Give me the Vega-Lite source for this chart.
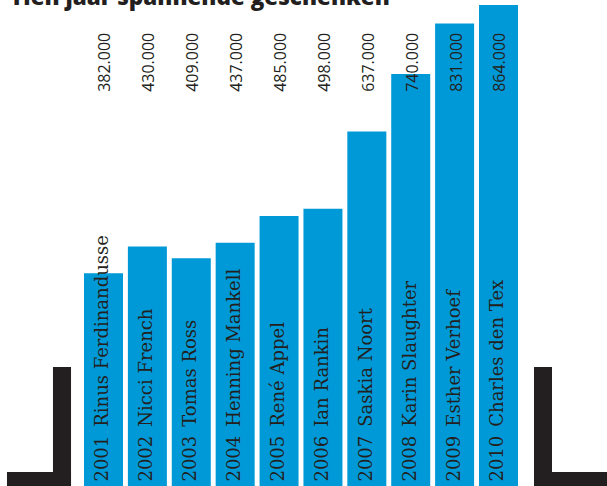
{
  "$schema": "https://vega.github.io/schema/vega-lite/v6.json",
  "width": 607,
  "height": 486,
  "autosize": {"type": "none"},
  "padding": 0,
  "background": "white",
  "config": {
    "view": {"stroke": null},
    "locale": {"number": {"decimal": ",", "thousands": ".", "grouping": [3], "currency": ["€", ""]}}
  },
  "datasets": {
    "titel": [
      {"tekst": "Tien jaar spannende geschenken"}
    ],
    "boeken": [
      {"jaar": 2001, "label": "2001\u2002Rinus Ferdinandusse", "oplage": 382000},
      {"jaar": 2002, "label": "2002\u2002Nicci French", "oplage": 430000},
      {"jaar": 2003, "label": "2003\u2002Tomas Ross", "oplage": 409000},
      {"jaar": 2004, "label": "2004\u2002Henning Mankell", "oplage": 437000},
      {"jaar": 2005, "label": "2005\u2002René Appel", "oplage": 485000},
      {"jaar": 2006, "label": "2006\u2002Ian Rankin", "oplage": 498000},
      {"jaar": 2007, "label": "2007\u2002Saskia Noort", "oplage": 637000},
      {"jaar": 2008, "label": "2008\u2002Karin Slaughter", "oplage": 740000},
      {"jaar": 2009, "label": "2009\u2002Esther Verhoef", "oplage": 831000},
      {"jaar": 2010, "label": "2010\u2002Charles den Tex", "oplage": 864000}
    ],
    "decor": [
      {"x_start": 1999.849, "x_end": 2000.26, "y_start": 0, "y_end": 213759},
      {"x_start": 1998.801, "x_end": 2000.26, "y_start": 0, "y_end": 25148},
      {"x_start": 2010.809, "x_end": 2011.219, "y_start": 0, "y_end": 213759},
      {"x_start": 2010.809, "x_end": 2012.6, "y_start": 0, "y_end": 25148}
    ]
  },
  "layer": [
    {
      "data": {"name": "decor"},
      "mark": {"type": "rect", "color": "#231f20", "clip": false},
      "encoding": {
        "x": {"field": "x_start", "type": "quantitative", "scale": {"domain": [1998.6418, 2012.4722], "nice": false, "zero": false, "padding": 0}, "axis": null},
        "x2": {"field": "x_end"},
        "y": {"field": "y_start", "type": "quantitative", "scale": {"domain": [0, 873000], "nice": false, "padding": 0}, "axis": null},
        "y2": {"field": "y_end"}
      }
    },
    {
      "data": {"name": "boeken"},
      "mark": {"type": "bar", "color": "#0099d8", "width": 39},
      "encoding": {
        "x": {"field": "jaar", "type": "quantitative", "scale": {"domain": [1998.6418, 2012.4722], "nice": false, "zero": false, "padding": 0}, "axis": null},
        "y": {"field": "oplage", "type": "quantitative", "scale": {"domain": [0, 873000], "nice": false, "padding": 0}, "axis": null}
      }
    },
    {
      "data": {"name": "boeken"},
      "mark": {"type": "text", "angle": 270, "align": "left", "baseline": "middle", "font": "DejaVu Serif", "fontSize": 18, "color": "#231f20"},
      "encoding": {
        "x": {"field": "jaar", "type": "quantitative", "scale": {"domain": [1998.6418, 2012.4722], "nice": false, "zero": false, "padding": 0}, "axis": null},
        "y": {"datum": 8000, "type": "quantitative", "scale": {"domain": [0, 873000], "nice": false, "padding": 0}, "axis": null},
        "text": {"field": "label", "type": "nominal"}
      }
    },
    {
      "data": {"name": "boeken"},
      "mark": {"type": "text", "angle": 270, "align": "left", "baseline": "middle", "dy": 2, "font": "Open Sans", "fontSize": 16, "color": "#231f20"},
      "encoding": {
        "x": {"field": "jaar", "type": "quantitative", "scale": {"domain": [1998.6418, 2012.4722], "nice": false, "zero": false, "padding": 0}, "axis": null},
        "y": {"datum": 708000, "type": "quantitative", "scale": {"domain": [0, 873000], "nice": false, "padding": 0}, "axis": null},
        "text": {"field": "oplage", "type": "quantitative", "format": ",.0f"}
      }
    },
    {
      "data": {"name": "titel"},
      "mark": {"type": "text", "align": "left", "baseline": "alphabetic", "font": "Open Sans", "fontSize": 22.5, "fontWeight": 800, "color": "#231f20", "clip": false},
      "encoding": {
        "x": {"datum": 1998.87, "type": "quantitative", "scale": {"domain": [1998.6418, 2012.4722], "nice": false, "zero": false, "padding": 0}, "axis": null},
        "y": {"datum": 864000, "type": "quantitative", "scale": {"domain": [0, 873000], "nice": false, "padding": 0}, "axis": null},
        "text": {"field": "tekst", "type": "nominal"}
      }
    }
  ]
}
